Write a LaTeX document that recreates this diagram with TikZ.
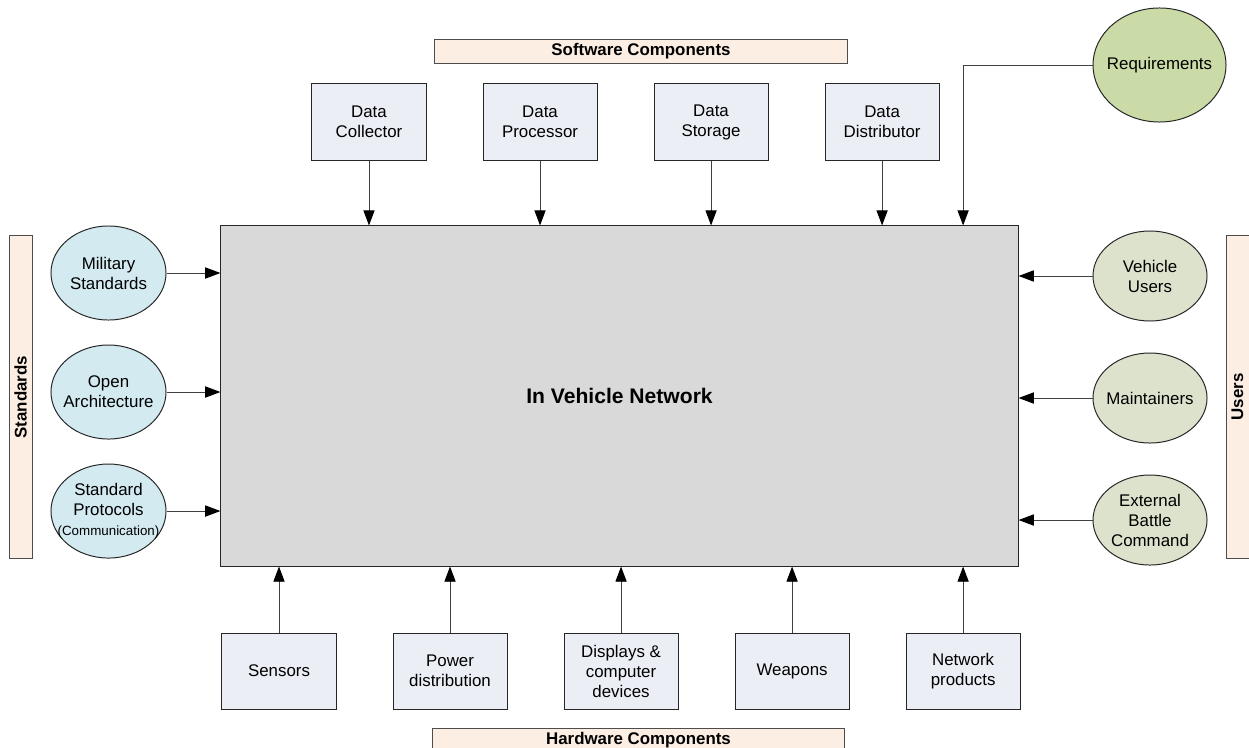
\documentclass[tikz,border=0pt]{standalone}
\usepackage{fontspec}
\setmainfont{Liberation Sans}
\usetikzlibrary{arrows.meta, positioning, calc, shapes.geometric}
\definecolor{boxfill}{RGB}{235,239,245}
\definecolor{corefill}{RGB}{217,217,217}
\definecolor{tagfill}{RGB}{253,238,228}
\definecolor{stdfill}{RGB}{210,234,240}
\definecolor{userfill}{RGB}{221,226,204}
\definecolor{reqfill}{RGB}{203,219,168}
\definecolor{linegray}{RGB}{64,64,64}

\begin{document}
\begin{tikzpicture}[
  x=0.025cm, y=-0.025cm,
  every node/.style={font=\fontsize{12}{14.2}\selectfont},
  comp/.style={
    draw=black!85, fill=boxfill, line width=0.7pt,
    minimum width=2.85cm, minimum height=1.9cm,
    align=center, inner sep=0pt
  },
  core/.style={
    draw=black!85, fill=corefill, line width=0.7pt,
    minimum width=19.925cm, minimum height=8.5cm,
    font=\fontsize{15}{18}\selectfont\bfseries
  },
  tag/.style={
    draw=black!70, fill=tagfill, line width=0.7pt,
    minimum width=10.3cm, minimum height=0.6cm, inner sep=0pt,
    font=\fontsize{12}{14.2}\selectfont\bfseries
  },
  sidetag/.style={tag, minimum width=8.05cm, minimum height=0.575cm, rotate=90},
  ell/.style={
    ellipse, draw=black!85, line width=0.7pt,
    minimum width=2.875cm, minimum height=2.35cm,
    align=center, inner xsep=-8pt, inner ysep=0pt
  },
  arrow/.style={-{Triangle[length=3.8mm, width=2.8mm, black]}, line width=0.7pt, draw=linegray}
]
  \useasboundingbox (0,0) rectangle (1249,748);

  % Rete centrale
  \node[core] (ivn) at (619.5,396) {In Vehicle Network};

  % Componenti software (in alto)
  \node[tag] (swtag) at (641,51) {Software Components};
  \node[comp] (coll) at (369,122) {Data\\Collector};
  \node[comp, right=1.4cm of coll] (proc) {Data\\Processor};
  \node[comp, right=1.4cm of proc] (stor) {Data\\Storage};
  \node[comp, right=1.4cm of stor] (distr) {Data\\Distributor};
  \node[ell, fill=reqfill, minimum width=3.325cm, minimum height=2.85cm] (req) at (1159.5,65) {Requirements};

  % Standard (a sinistra)
  \node[sidetag] (stdtag) at (20.5,397) {Standards};
  \node[ell, fill=stdfill] (mil) at (108.5,273) {Military\\Standards};
  \node[ell, fill=stdfill, below=0.6cm of mil] (openarch) {Open\\Architecture};
  \node[ell, fill=stdfill, below=0.6cm of openarch] (proto) {Standard\\Protocols\\{\fontsize{9.5}{11}\selectfont(Communication)}};

  % Utenti (a destra)
  \node[sidetag] (usrtag) at (1237.5,397) {Users};
  \node[ell, fill=userfill, minimum width=2.85cm, minimum height=2.25cm] (vusers) at (1150,276) {Vehicle\\Users};
  \node[ell, fill=userfill, minimum width=2.85cm, minimum height=2.25cm, below=0.775cm of vusers] (maint) {Maintainers};
  \node[ell, fill=userfill, minimum width=2.85cm, minimum height=2.25cm, below=0.775cm of maint] (ebc) {External\\Battle\\Command};

  % Componenti hardware (in basso)
  \node[comp] (sens) at (279,671) {Sensors};
  \node[comp, right=1.4cm of sens] (power) {Power\\distribution};
  \node[comp, right=1.4cm of power] (displ) {Displays \&\\computer\\devices};
  \node[comp, right=1.4cm of displ] (weap) {Weapons};
  \node[comp, right=1.4cm of weap] (netprod) {Network\\products};
  \node[tag] (hwtag) at (638.5,740) {Hardware Components};

  \coordinate (reqin) at (netprod |- ivn.north);

  % Frecce dall'alto
  \draw[arrow] (coll) -- (coll |- ivn.north);
  \draw[arrow] (proc) -- (proc |- ivn.north);
  \draw[arrow] (stor) -- (stor |- ivn.north);
  \draw[arrow] (distr) -- (distr |- ivn.north);
  \draw[arrow] (req.west) -| (reqin);

  % Frecce laterali
  \draw[arrow] (mil) -- (mil -| ivn.west);
  \draw[arrow] (openarch) -- (openarch -| ivn.west);
  \draw[arrow] (proto) -- (proto -| ivn.west);
  \draw[arrow] (vusers) -- (vusers -| ivn.east);
  \draw[arrow] (maint) -- (maint -| ivn.east);
  \draw[arrow] (ebc) -- (ebc -| ivn.east);

  % Frecce dal basso
  \draw[arrow] (sens) -- (sens |- ivn.south);
  \draw[arrow] (power) -- (power |- ivn.south);
  \draw[arrow] (displ) -- (displ |- ivn.south);
  \draw[arrow] (weap) -- (weap |- ivn.south);
  \draw[arrow] (netprod) -- (netprod |- ivn.south);

\end{tikzpicture}
\end{document}
